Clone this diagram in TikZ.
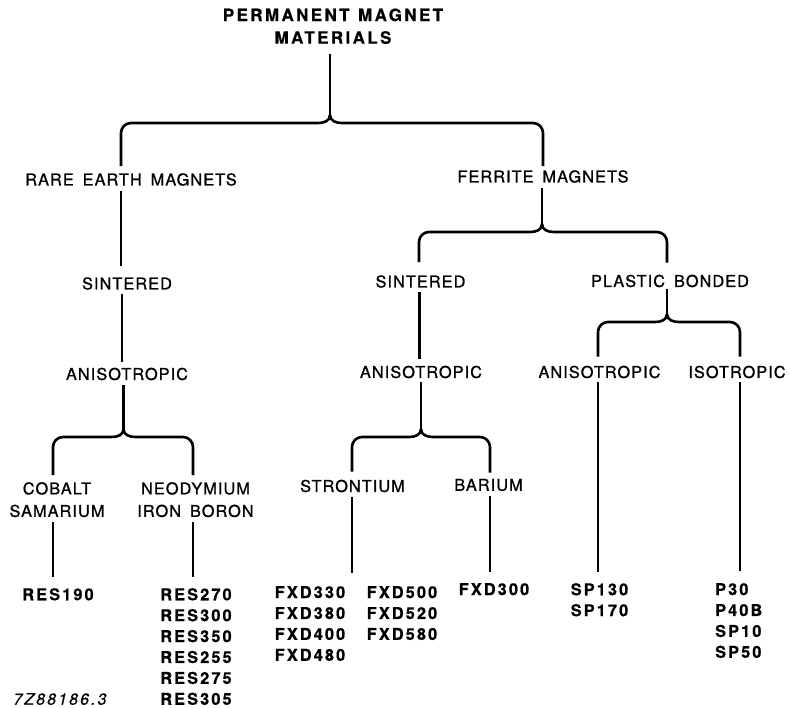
\documentclass[tikz,border=0pt]{standalone}
\usepackage{fontspec}
\setmainfont{TeX Gyre Heros}
\newfontfamily\lblfont{TeX Gyre Heros}[LetterSpace=6.5,WordSpace=1.6,FakeBold=1]
\newfontfamily\codefont{TeX Gyre Heros}[LetterSpace=13,FakeBold=0.6]
\newfontfamily\titlefont{TeX Gyre Heros}[LetterSpace=14,WordSpace=1.2,FakeBold=0.6]
\usetikzlibrary{calc}

\tikzset{
  lbl/.style={inner sep=0pt,align=center,font=\lblfont\fontsize{16.3}{22.5}\selectfont},
  code/.style={inner sep=0pt,align=center,anchor=north,font=\codefont\bfseries\fontsize{16.3}{20.9}\selectfont},
  heading/.style={inner sep=0pt,align=center,anchor=north,font=\titlefont\bfseries\fontsize{17}{22.6}\selectfont},
  link/.style={line width=2.6pt,line join=round}
}

% fork: #1 tip, #2 left leg end, #3 right leg end
\newcommand\fork[3]{%
  \draw[link] (#1) .. controls +(0,6) and +(6,0) .. ($(#1)+(-12,8)$) [rounded corners=10pt] -| (#2);
  \draw[link] (#1) .. controls +(0,6) and +(-6,0) .. ($(#1)+(12,8)$) [rounded corners=10pt] -| (#3);
}

\begin{document}
\begin{tikzpicture}[x=1pt,y=-1pt]
\useasboundingbox (0,0) rectangle (790,708);

% ---- labels ----
\node[heading] (title) at (333,8.3) {PERMANENT MAGNET\\MATERIALS};

\node[lbl] (rare)    at (131,179.5) {RARE EARTH MAGNETS};
\node[lbl] (ferrite) at (543,176.5) {FERRITE MAGNETS};

\node[lbl] (sintL)   at (127,283.5) {SINTERED};
\node[lbl] (sintR)   at (420.5,281.5) {SINTERED};
\node[lbl] (plastic) at (670,281) {PLASTIC BONDED};

\node[lbl] (anisoL)  at (127,374) {ANISOTROPIC};
\node[lbl] (anisoM)  at (421,372) {ANISOTROPIC};
\node[lbl] (anisoR)  at (599.5,372) {ANISOTROPIC};
\node[lbl] (iso)     at (737,372) {ISOTROPIC};

\node[lbl,anchor=north] (cobalt) at (57,482) {COBALT\\SAMARIUM};
\node[lbl,anchor=north] (neo)    at (195.5,482) {NEODYMIUM\\IRON BORON};
\node[lbl] (stron)  at (352.5,486) {STRONTIUM};
\node[lbl] (barium) at (488.5,485) {BARIUM};

\node[code] (res190) at (58,588) {RES190};
\node[code] (resB)   at (196,588) {RES270\\RES300\\RES350\\RES255\\RES275\\RES305};
\node[code] (fxdA)   at (310,586) {FXD330\\FXD380\\FXD400\\FXD480};
\node[code] (fxdB)   at (402,586) {FXD500\\FXD520\\FXD580};
\node[code] (fxdC)   at (494,583) {FXD300};
\node[code] (spA)    at (599.5,583) {SP130\\SP170};
\node[code,anchor=north west,align=left] (spB) at (715,583) {P30\\P40B\\SP10\\SP50};

\node[inner sep=0pt,font=\codefont\itshape\fontsize{16}{20}\selectfont] (ref) at (60,699) {7Z88186.3};

% ---- fork tips ----
\coordinate (t0) at (330,115);
\coordinate (t1) at (123.5,429);
\coordinate (t2) at (542,224);
\coordinate (t3) at (421,429);
\coordinate (t4) at (667,314);

% ---- connectors ----
\draw[link] ($(title.south -| t0)+(0,10)$) -- (t0);
\fork{t0}{$(rare.north -| 121,0)+(0,-7)$}{$(ferrite.north -| 543,0)+(0,-4)$}

\draw[link] ($(rare.south -| 121,0)+(0,5)$) -- ($(sintL.north -| 121,0)+(0,-11)$);
\draw[link] ($(sintL.south -| 122,0)+(0,4)$) -- ($(anisoL.north -| 122,0)+(0,-6)$);
\draw[link] ($(anisoL.south -| t1)+(0,5)$) -- (t1);
\fork{t1}{$(cobalt.north -| 53,0)+(0,-7)$}{$(neo.north -| 193,0)+(0,-7)$}
\draw[link] ($(cobalt.south -| 53,0)+(0,5)$) -- ($(res190.north -| 53,0)+(0,-11)$);
\draw[link] ($(neo.south -| 193,0)+(0,5)$) -- ($(resB.north -| 193,0)+(0,-11)$);

\draw[link] ($(ferrite.south -| t2)+(0,5)$) -- (t2);
\fork{t2}{$(sintR.north -| 419,0)+(0,-13)$}{$(plastic.north -| 667,0)+(0,-12)$}
\draw[link] ($(sintR.south -| 419.5,0)+(0,4)$) -- ($(anisoM.north -| 419.5,0)+(0,-7)$);
\draw[link] ($(anisoM.south -| t3)+(0,4)$) -- (t3);
\fork{t3}{$(stron.north -| 352,0)+(0,-8)$}{$(barium.north -| 490,0)+(0,-6)$}
\draw[link] ($(stron.south -| 352,0)+(0,5)$) -- ($(fxdA.north -| 352,0)+(0,-13)$);
\draw[link] ($(barium.south -| 490,0)+(0,5)$) -- ($(fxdC.north -| 490,0)+(0,-11)$);

\draw[link] ($(plastic.south -| t4)+(0,2)$) -- (t4);
\fork{t4}{$(anisoR.north -| 598,0)+(0,-9)$}{$(iso.north -| 740,0)+(0,-9)$}
\draw[link] ($(anisoR.south -| 598,0)+(0,4)$) -- ($(spA.north -| 598,0)+(0,-11)$);
\draw[link] ($(iso.south -| 740,0)+(0,4)$) -- ($(spB.north -| 740,0)+(0,-12)$);
\end{tikzpicture}
\end{document}
